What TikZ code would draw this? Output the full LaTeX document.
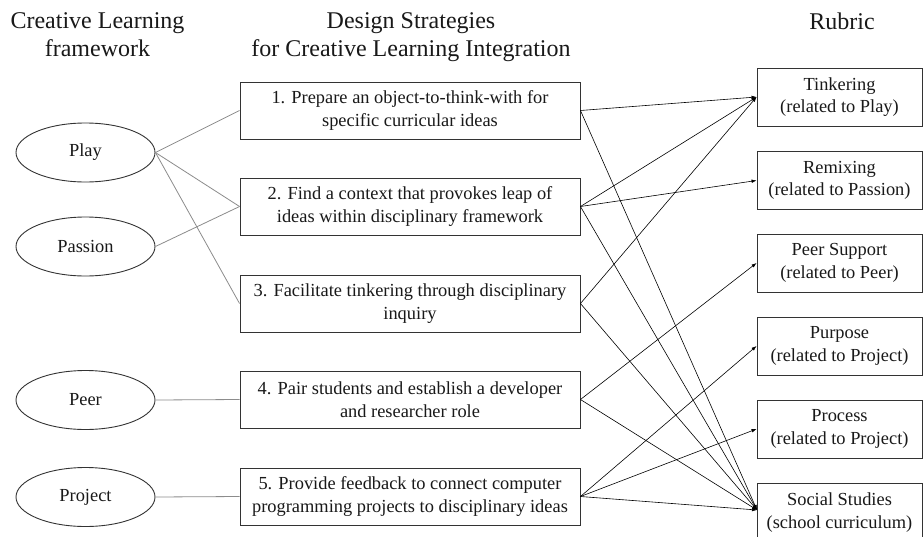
\documentclass[tikz,border=0pt]{standalone}
\usepackage{fontspec}
\setmainfont{Liberation Serif}
\usetikzlibrary{shapes.geometric,arrows.meta}

\definecolor{inkline}{HTML}{333333}
\definecolor{linkgray}{HTML}{8C8C8C}

\begin{document}
\begin{tikzpicture}[x=1pt,y=-1pt,
  every node/.style={text=black!90},
  heading/.style={anchor=north, align=center, inner sep=0pt,
    font=\fontsize{24}{28}\selectfont},
  bodytext/.style={font=\fontsize{18.4}{22.5}\selectfont},
  idea/.style={ellipse, draw=inkline, line width=0.9pt, bodytext,
    minimum width=139pt, minimum height=59pt, inner sep=0pt},
  strategy/.style={rectangle, draw=inkline, line width=0.9pt, bodytext,
    align=center, minimum width=340pt, minimum height=57pt, inner sep=0pt},
  rubric/.style={rectangle, draw=inkline, line width=0.9pt, bodytext,
    align=center, minimum width=165pt, minimum height=58pt, inner sep=0pt},
  link/.style={draw=linkgray, line width=0.8pt},
  arrowlink/.style={draw=black, line width=0.6pt,
    -{Latex[length=5pt,width=3.6pt]}}
]
\clip (0,0) rectangle (923,536);
\fill[white] (0,0) rectangle (923,536);

% column headings
\node[heading] (h1) at (97.5,12.7) {Creative Learning\\framework};
\node[heading] (h2) at (411,12.5) {Design Strategies\\for Creative Learning Integration};
\node[heading] (h3) at (842,12.5) {Rubric};

% creative learning framework
\node[idea] (play)    at (85.5,152.5) {Play};
\node[idea] (passion) at (85.5,246.5) {Passion};
\node[idea] (peer)    at (85.5,400)   {Peer};
\node[idea] (project) at (85.5,497)   {Project};

% design strategies
\node[strategy] (s1) at (410,110.5) {1. Prepare an object-to-think-with for\\specific curricular ideas};
\node[strategy] (s2) at (410,206.5) {2. Find a context that provokes leap of\\ideas within disciplinary framework};
\node[strategy] (s3) at (410,303.5) {3. Facilitate tinkering through disciplinary\\inquiry};
\node[strategy] (s4) at (410,399.5) {4. Pair students and establish a developer\\and researcher role};
\node[strategy] (s5) at (410,496.5) {5. Provide feedback to connect computer\\programming projects to disciplinary ideas};

% rubric
\node[rubric] (r1) at (839.5,97)    {Tinkering\\(related to Play)};
\node[rubric] (r2) at (839.5,180.5) {Remixing\\(related to Passion)};
\node[rubric] (r3) at (839.5,263)   {Peer Support\\(related to Peer)};
\node[rubric] (r4) at (839.5,346)   {Purpose\\(related to Project)};
\node[rubric] (r5) at (839.5,429)   {Process\\(related to Project)};
\node[rubric] (r6) at (839.5,512.5) {Social Studies\\(school curriculum)};
\coordinate (r6in) at (757,510);

% framework to strategies
\draw[link] (play.east) -- (s1.west);
\draw[link] (play.east) -- (s2.west);
\draw[link] (play.east) -- (s3.west);
\draw[link] (passion.east) -- (s2.west);
\draw[link] (peer.east) -- (s4.west);
\draw[link] (project.east) -- (s5.west);

% strategies to rubric
\draw[arrowlink] (s1.east) -- (r1.west);
\draw[arrowlink] (s1.east) -- (r6in);
\draw[arrowlink] (s2.east) -- (r1.west);
\draw[arrowlink] (s2.east) -- (r2.west);
\draw[arrowlink] (s2.east) -- (r6in);
\draw[arrowlink] (s3.east) -- (r1.west);
\draw[arrowlink] (s3.east) -- (r6in);
\draw[arrowlink] (s4.east) -- (r3.west);
\draw[arrowlink] (s4.east) -- (r6in);
\draw[arrowlink] (s5.east) -- (r4.west);
\draw[arrowlink] (s5.east) -- (r5.west);
\draw[arrowlink] (s5.east) -- (r6in);
\end{tikzpicture}
\end{document}
